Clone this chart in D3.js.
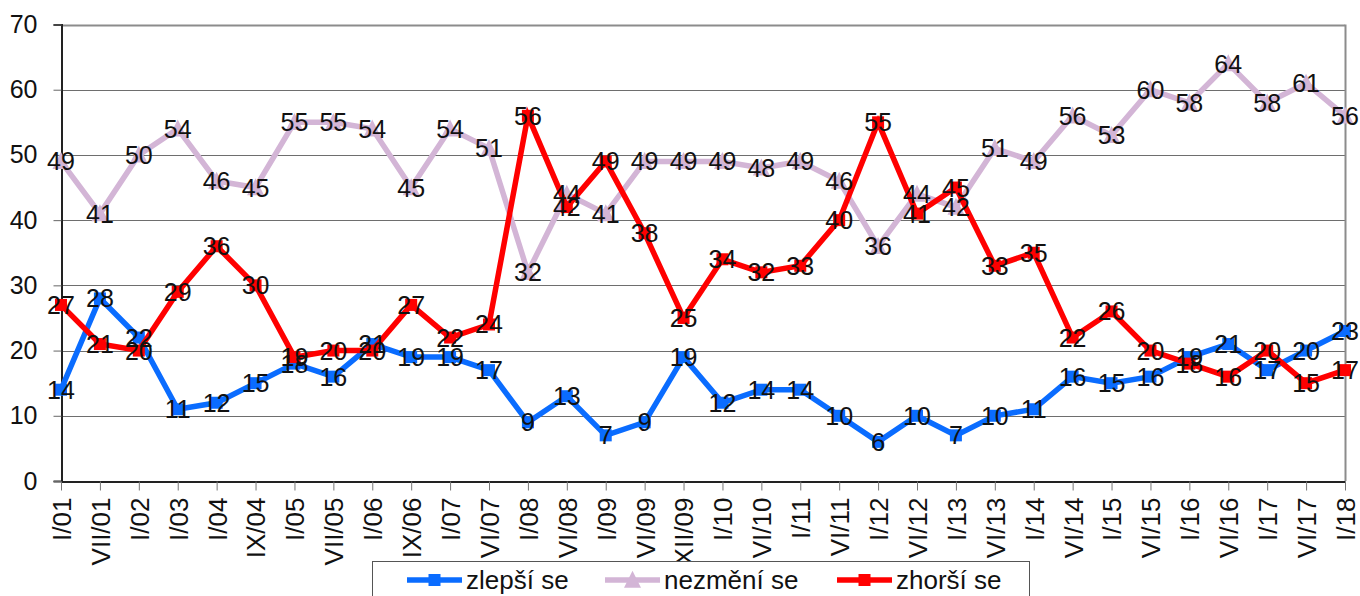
<!DOCTYPE html>
<html>
<head>
<meta charset="utf-8">
<script src="https://cdn.jsdelivr.net/npm/d3@7"></script>
<style>
  html, body { margin: 0; padding: 0; background: #fff; }
  svg { display: block; font-family: "Liberation Sans", Arial, sans-serif; }
</style>
</head>
<body>
<svg id="chart" width="1360" height="596"></svg>
<script>
// období (osa X)
var categories = ['I/01', 'VII/01', 'I/02', 'I/03', 'I/04', 'IX/04', 'I/05', 'VII/05', 'I/06', 'IX/06',
    'I/07', 'VI/07', 'I/08', 'VI/08', 'I/09', 'VI/09', 'XII/09', 'I/10', 'VI/10', 'I/11',
    'VI/11', 'I/12', 'VI/12', 'I/13', 'VI/13', 'I/14', 'VI/14', 'I/15', 'VI/15', 'I/16',
    'VI/16', 'I/17', 'VI/17', 'I/18'];

var zlepsi = [14, 28, 22, 11, 12, 15, 18, 16, 21, 19, 19, 17, 9, 13, 7, 9, 19, 12, 14, 14,
    10, 6, 10, 7, 10, 11, 16, 15, 16, 19, 21, 17, 20, 23];
var nezmeni = [49, 41, 50, 54, 46, 45, 55, 55, 54, 45, 54, 51, 32, 44, 41, 49, 49, 49, 48, 49,
    46, 36, 44, 42, 51, 49, 56, 53, 60, 58, 64, 58, 61, 56];
var zhorsi = [27, 21, 20, 29, 36, 30, 19, 20, 20, 27, 22, 24, 56, 42, 49, 38, 25, 34, 32, 33,
    40, 55, 41, 45, 33, 35, 22, 26, 20, 18, 16, 20, 15, 17];

var yTicks = [0, 10, 20, 30, 40, 50, 60, 70];

var seriesNames = ['zlepší se', 'nezmění se', 'zhorší se'];

(function () {
    var series = [
        { name: seriesNames[0], values: zlepsi, color: '#0a6cff', marker: 'square' },
        { name: seriesNames[1], values: nezmeni, color: '#d3b5d6', marker: 'triangle' },
        { name: seriesNames[2], values: zhorsi, color: '#ff0000', marker: 'square' }
    ];

    var pL = 61, pR = 1345, pT = 24.5, pB = 481;
    var FONT = '"Liberation Sans", Arial, sans-serif';
    var svg = d3.select('#chart');

    var x = d3.scalePoint().domain(categories).range([pL, pR]).padding(0);
    var y = d3.scaleLinear().domain([0, 70]).range([pB, pT]);

    // mřížka
    svg.append('g').selectAll('line').data(yTicks.slice(1)).join('line')
        .attr('x1', pL).attr('x2', pR)
        .attr('y1', function (d) { return Math.round(y(d)) + 0.5; })
        .attr('y2', function (d) { return Math.round(y(d)) + 0.5; })
        .attr('stroke', function (d) { return d === 70 ? '#8c8c8c' : '#6e6e6e'; })
        .attr('stroke-width', function (d) { return d === 70 ? 2 : 1; });

    // pravý okraj
    svg.append('line')
        .attr('x1', pR + 0.5).attr('x2', pR + 0.5).attr('y1', pT).attr('y2', pB)
        .attr('stroke', '#8c8c8c').attr('stroke-width', 2);

    // osa Y
    var yAxis = svg.append('g').attr('transform', 'translate(' + (pL + 0.5) + ',0)')
        .call(d3.axisLeft(y).tickValues(yTicks).tickSize(8).tickPadding(16));
    yAxis.select('.domain').attr('stroke', '#222').attr('stroke-width', 2);
    yAxis.selectAll('.tick line').attr('stroke', '#666');
    yAxis.selectAll('text').attr('font-size', 25).attr('fill', '#111').attr('font-family', FONT);

    // osa X
    var xAxis = svg.append('g').attr('transform', 'translate(0,' + (pB + 0.5) + ')')
        .call(d3.axisBottom(x).tickSize(9).tickSizeOuter(0));
    xAxis.select('.domain').attr('stroke', '#222').attr('stroke-width', 2);
    xAxis.selectAll('.tick line').attr('stroke', '#777');
    xAxis.selectAll('text')
        .attr('font-size', 26).attr('fill', '#111').attr('font-family', FONT)
        .attr('text-anchor', 'end')
        .attr('transform', 'rotate(-90)')
        .attr('x', -16).attr('y', 0).attr('dy', '0.36em');

    function drawMarker(g, type, color, size) {
        if (type === 'square') {
            g.append('rect').attr('x', -size / 2).attr('y', -size / 2)
                .attr('width', size).attr('height', size).attr('fill', color);
        } else {
            var s = size + 5;
            g.append('path')
                .attr('d', 'M0,' + (-s * 0.55) + 'L' + (s / 2) + ',' + (s * 0.45) + 'L' + (-s / 2) + ',' + (s * 0.45) + 'Z')
                .attr('fill', color);
        }
    }

    var line = d3.line()
        .x(function (d, i) { return x(categories[i]); })
        .y(function (d) { return y(d); });

    // čáry a značky
    series.forEach(function (s) {
        var g = svg.append('g');
        g.append('path').datum(s.values)
            .attr('d', line).attr('fill', 'none')
            .attr('stroke', s.color).attr('stroke-width', 5.5)
            .attr('stroke-linejoin', 'miter');
        g.selectAll('g.m').data(s.values).join('g').attr('class', 'm')
            .attr('transform', function (d, i) { return 'translate(' + x(categories[i]) + ',' + y(d) + ')'; })
            .each(function () { drawMarker(d3.select(this), s.marker, s.color, 12); });
    });

    // popisky hodnot
    series.forEach(function (s) {
        svg.append('g').selectAll('text').data(s.values).join('text')
            .attr('x', function (d, i) { return x(categories[i]); })
            .attr('y', function (d) { return y(d); })
            .attr('dy', '0.36em')
            .attr('text-anchor', 'middle')
            .attr('font-size', 25).attr('fill', '#111')
            .text(function (d) { return d; });
    });

    // legenda
    var legend = svg.append('g');
    legend.append('rect').attr('x', 372.5).attr('y', 561.5).attr('width', 657).attr('height', 60)
        .attr('fill', '#fff').attr('stroke', '#555').attr('stroke-width', 1);
    var legX = [407, 605, 837];
    series.forEach(function (s, i) {
        var g = legend.append('g').attr('transform', 'translate(' + legX[i] + ',580)');
        g.append('line').attr('x1', 0).attr('x2', 55).attr('y1', 0).attr('y2', 0)
            .attr('stroke', s.color).attr('stroke-width', 5.5);
        var m = g.append('g').attr('transform', 'translate(27.5,0)');
        drawMarker(m, s.marker, s.color, 12);
        g.append('text').attr('x', 59).attr('y', 9).attr('font-size', 26).attr('fill', '#111')
            .text(s.name);
    });
})();
</script>
</body>
</html>
